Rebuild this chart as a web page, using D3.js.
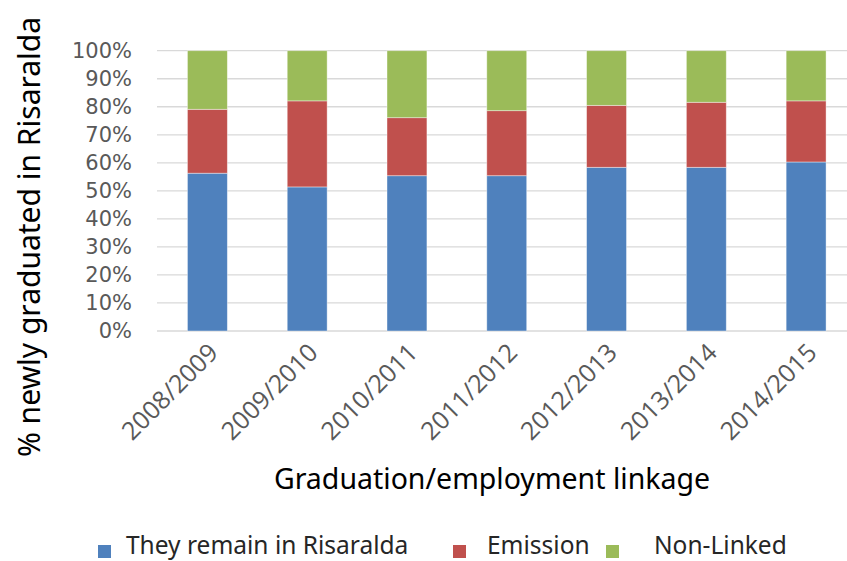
<!DOCTYPE html>
<html>
<head>
<meta charset="utf-8">
<script src="https://cdn.jsdelivr.net/npm/d3@7"></script>
<style>
  body { margin: 0; background: #fff; }
  svg { display: block; font-family: "Open Sans", sans-serif; }
</style>
</head>
<body>
<svg id="chart"></svg>
<script>
const categories = ['2008/2009', '2009/2010', '2010/2011', '2011/2012', '2012/2013', '2013/2014', '2014/2015'];
const remain = [56.3, 51.4, 55.4, 55.4, 58.4, 58.4, 60.3];
const emission = [22.8, 30.7, 20.7, 23.2, 22.1, 23.2, 21.8];
const nonLinked = [20.9, 17.9, 23.9, 21.4, 19.5, 18.4, 17.9];
const seriesNames = ['They remain in Risaralda', 'Emission', 'Non-Linked'];
const yTicks = [0, 10, 20, 30, 40, 50, 60, 70, 80, 90, 100];

const colors = ['#4F81BD', '#C0504D', '#9BBB59'];
const width = 847, height = 561;

const svg = d3.select('#chart').attr('width', width).attr('height', height);

const x = d3.scaleBand().domain(categories).range([157.5, 856]).paddingInner(0.6).paddingOuter(0.3);
const y = d3.scaleLinear().domain([0, 100]).range([331, 50.7]);

// gridlines
svg.append('g')
  .selectAll('line')
  .data(yTicks)
  .join('line')
  .attr('x1', 157).attr('x2', 847)
  .attr('y1', d => y(d)).attr('y2', d => y(d))
  .attr('stroke', '#D9D9D9').attr('stroke-width', 1.3);

// y axis labels
const yAxis = svg.append('g')
  .attr('transform', 'translate(132,0)')
  .call(d3.axisLeft(y).tickValues(yTicks).tickFormat(d => d + '%').tickSize(0).tickPadding(0));
yAxis.select('.domain').remove();
yAxis.selectAll('text')
  .attr('fill', '#595959')
  .style('font-size', '21px')
  .style('font-family', '"DejaVu Sans", sans-serif');

// stacked bars
const rows = categories.map((c, i) => ({ cat: c, remain: remain[i], emission: emission[i], nonLinked: nonLinked[i] }));
const stack = d3.stack().keys(['remain', 'emission', 'nonLinked'])(rows);

svg.append('g')
  .selectAll('g')
  .data(stack)
  .join('g')
  .attr('fill', (d, i) => colors[i])
  .selectAll('rect')
  .data(d => d)
  .join('rect')
  .attr('x', d => x(d.data.cat))
  .attr('width', x.bandwidth())
  .attr('y', d => y(d[1]))
  .attr('height', d => y(d[0]) - y(d[1]))
  .attr('stroke', '#ffffff')
  .attr('stroke-opacity', 0.5)
  .attr('stroke-width', 0.8);

// x axis labels, rotated
const xAxis = svg.append('g')
  .attr('transform', 'translate(0,348)')
  .call(d3.axisBottom(x).tickSize(0).tickPadding(0));
xAxis.select('.domain').remove();
xAxis.selectAll('text')
  .attr('fill', '#595959')
  .style('font-size', '25px')
  .style('font-family', '"Open Sans", sans-serif')
  .attr('text-anchor', 'end')
  .attr('dy', '0.35em')
  .attr('transform', 'translate(6,0) rotate(-45)');

// axis titles
svg.append('text')
  .attr('x', 492).attr('y', 489)
  .attr('text-anchor', 'middle')
  .attr('fill', '#000')
  .style('font-size', '28.5px')
  .style('font-family', '"Noto Sans", sans-serif')
  .text('Graduation/employment linkage');

svg.append('text')
  .attr('transform', 'translate(40,237) rotate(-90)')
  .attr('text-anchor', 'middle')
  .attr('fill', '#000')
  .style('font-size', '30px')
  .style('font-family', '"Noto Sans", sans-serif')
  .text('% newly graduated in Risaralda');

// legend
const legendItems = [
  { name: seriesNames[0], color: colors[0], sx: 98, tx: 126 },
  { name: seriesNames[1], color: colors[1], sx: 453, tx: 487 },
  { name: seriesNames[2], color: colors[2], sx: 606, tx: 654 }
];
const legend = svg.append('g');
legend.selectAll('rect')
  .data(legendItems)
  .join('rect')
  .attr('x', d => d.sx).attr('y', 545)
  .attr('width', 13).attr('height', 13)
  .attr('fill', d => d.color);
legend.selectAll('text')
  .data(legendItems)
  .join('text')
  .attr('x', d => d.tx).attr('y', 554)
  .attr('fill', '#262626')
  .style('font-size', '24.5px')
  .style('font-family', '"Noto Sans", sans-serif')
  .text(d => d.name);
</script>
</body>
</html>
